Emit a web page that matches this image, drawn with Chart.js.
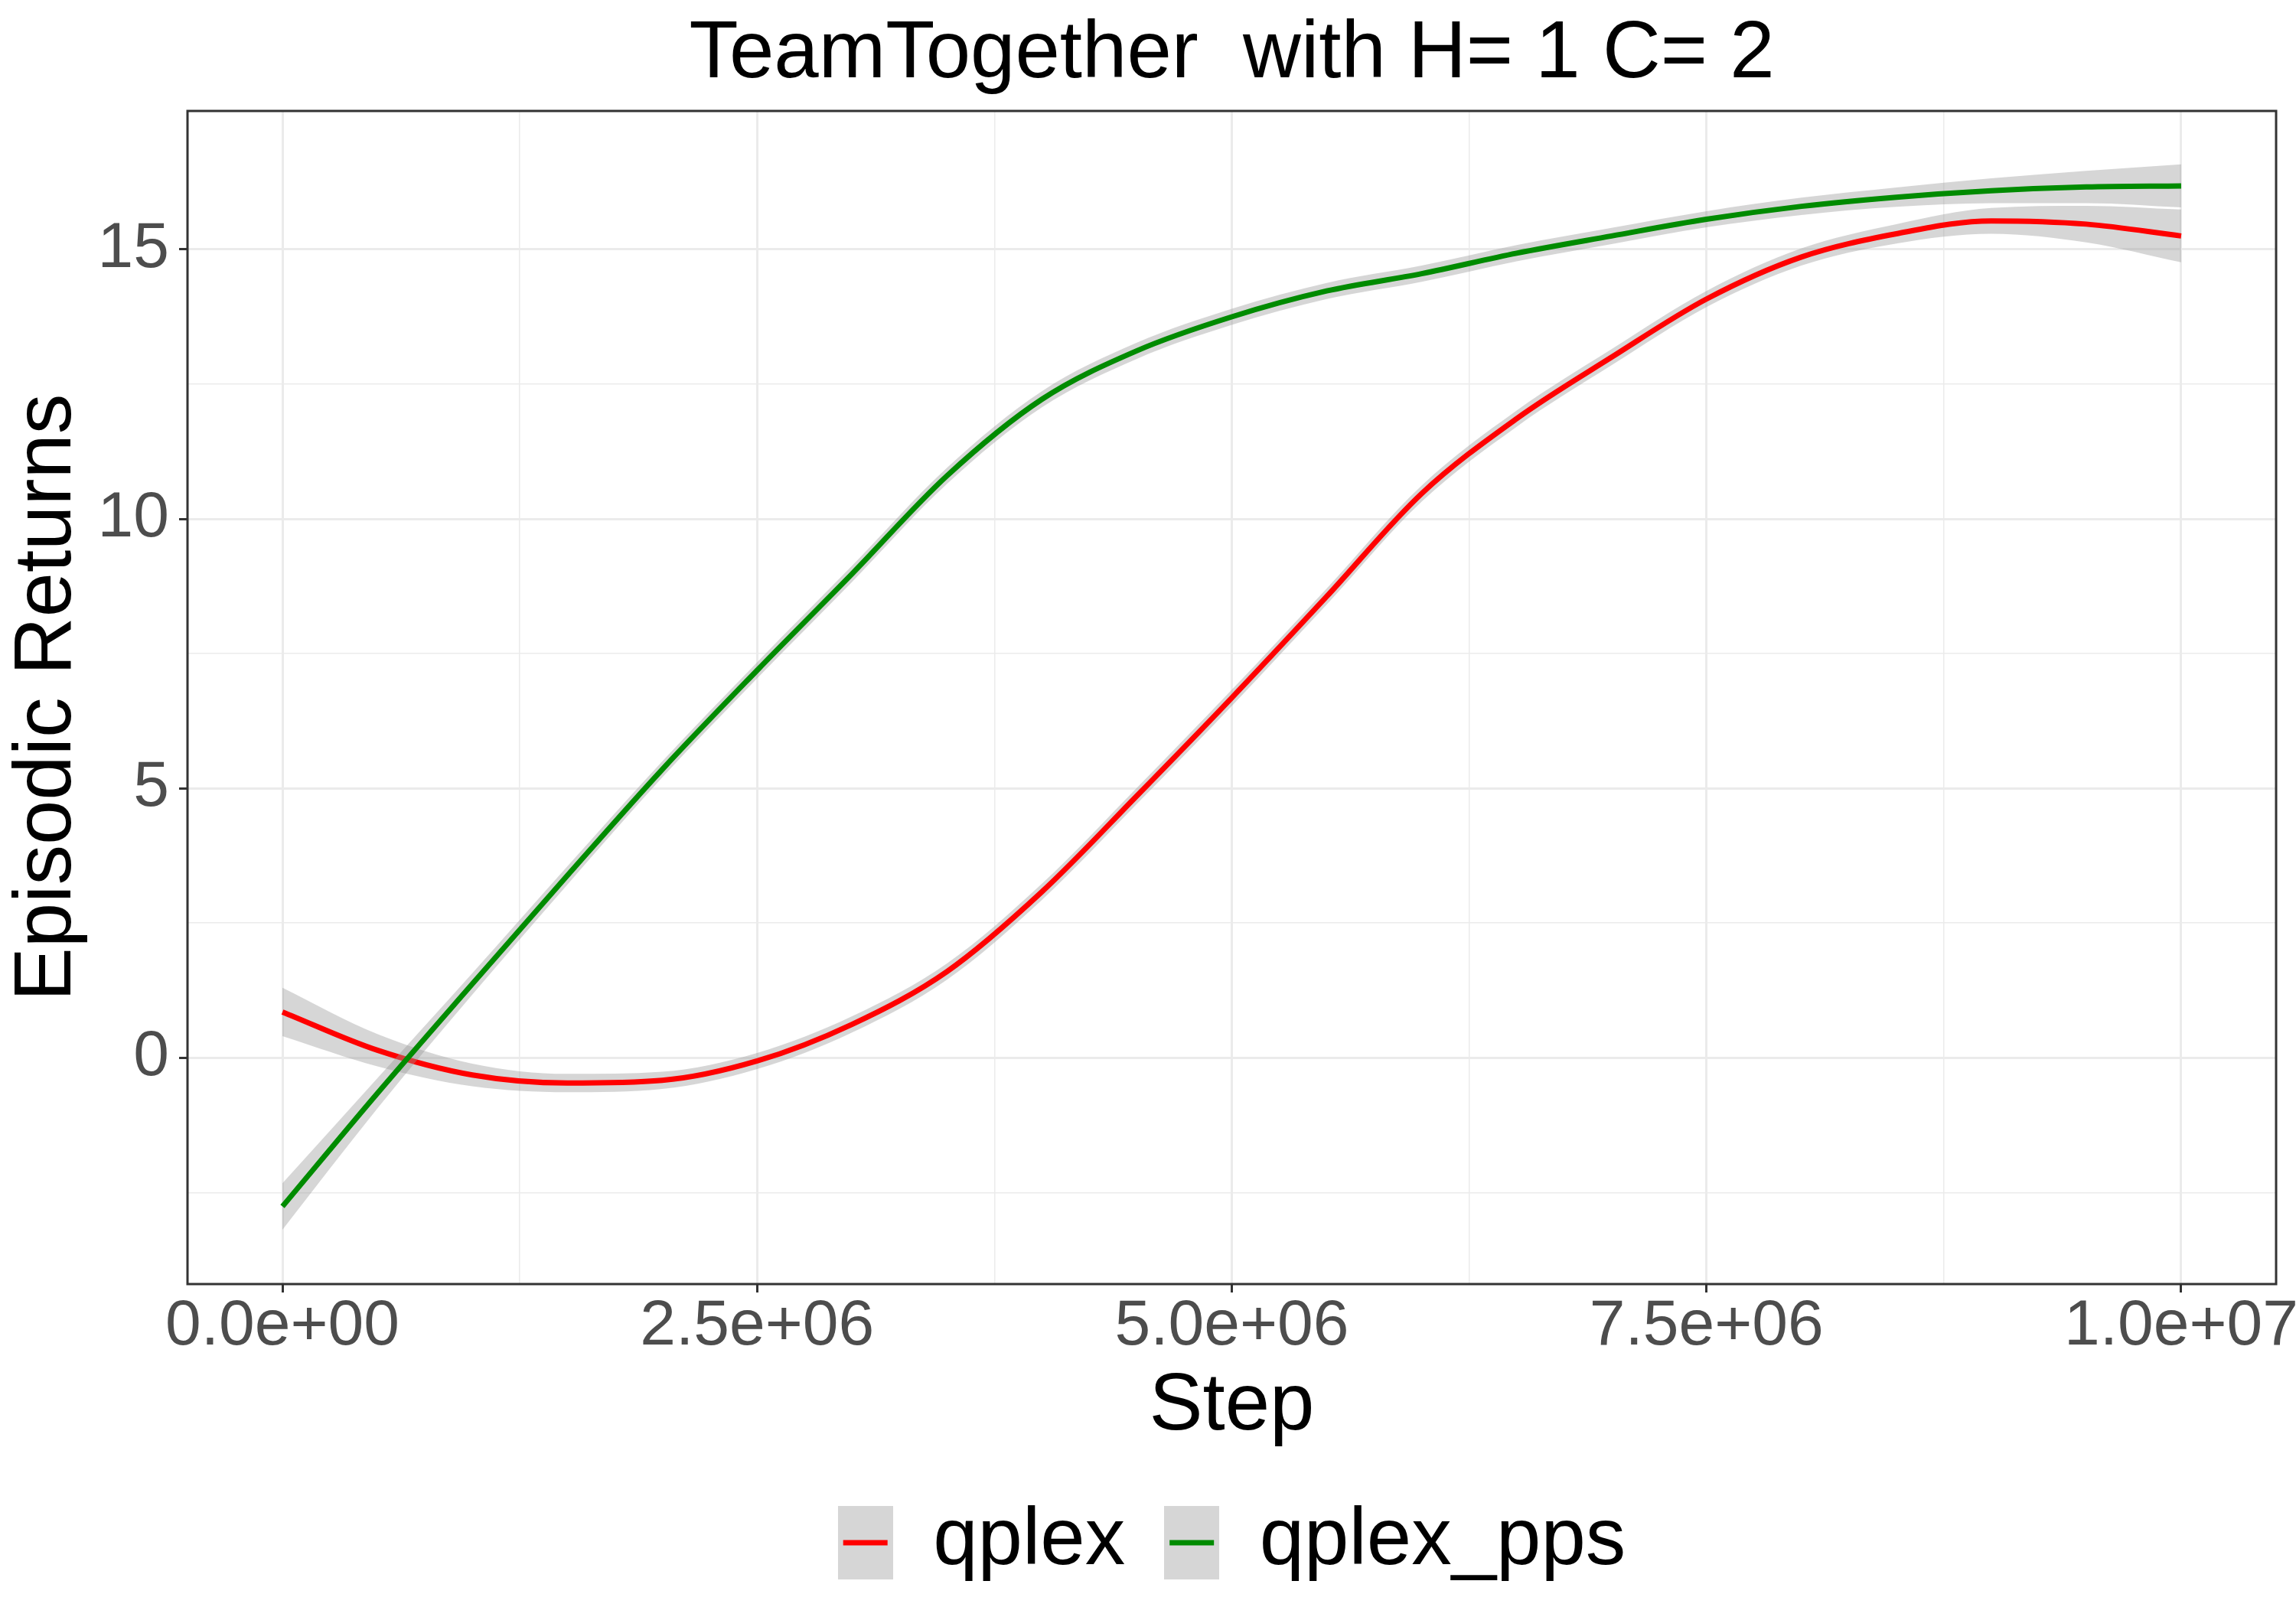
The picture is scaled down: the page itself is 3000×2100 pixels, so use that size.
<!DOCTYPE html>
<html>
<head>
<meta charset="utf-8">
<script src="https://cdn.jsdelivr.net/npm/chart.js@4.4.1/dist/chart.umd.min.js"></script>
<style>
  html, body { margin: 0; padding: 0; background: #ffffff; }
  canvas { display: block; }
</style>
</head>
<body>
<canvas id="chart" width="3000" height="2100"></canvas>
<script>
// values every 0.5e6 steps
const steps = [0, 500000, 1000000, 1500000, 2000000, 2500000, 3000000, 3500000, 4000000, 4500000,
    5000000, 5500000, 6000000, 6500000, 7000000, 7500000, 8000000, 8500000, 9000000, 9500000, 10000000];

const qplex = [0.85, 0.14, -0.32, -0.47, -0.42, -0.06, 0.62, 1.6, 3.08, 4.86,
    6.68, 8.56, 10.47, 11.86, 13.0, 14.08, 14.86, 15.29, 15.53, 15.47, 15.25];
const qplexSe = [0.45, 0.3, 0.21, 0.17, 0.16, 0.15, 0.15, 0.15, 0.15, 0.15,
    0.15, 0.15, 0.15, 0.15, 0.15, 0.15, 0.16, 0.18, 0.24, 0.34, 0.49];

const qplexPps = [-2.76, -0.66, 1.37, 3.38, 5.35, 7.19, 8.98, 10.8, 12.22, 13.12,
    13.75, 14.23, 14.55, 14.93, 15.25, 15.56, 15.8, 15.97, 16.09, 16.16, 16.18];
const qplexPpsSe = [0.43, 0.28, 0.2, 0.17, 0.15, 0.15, 0.15, 0.15, 0.15, 0.15,
    0.15, 0.15, 0.15, 0.15, 0.15, 0.15, 0.16, 0.18, 0.23, 0.3, 0.4];

const xTickValues = [0, 1250000, 2500000, 3750000, 5000000, 6250000, 7500000, 8750000, 10000000];
const xTickLabels = ['0.0e+00', '', '2.5e+06', '', '5.0e+06', '', '7.5e+06', '', '1.0e+07'];
const yTickValues = [-2.5, 0, 2.5, 5, 7.5, 10, 12.5, 15];
const yTickLabels = ['', '0', '', '5', '', '10', '', '15'];

const FONT = '"Liberation Sans", Arial, sans-serif';
const RIBBON = 'rgba(153,153,153,0.4)';

function points(vals, offs, sign) {
    return steps.map((x, i) => ({ x: x, y: vals[i] + (offs ? sign * offs[i] : 0) }));
}

function legendKey(color) {
    const c = document.createElement('canvas');
    c.width = 72;
    c.height = 96;
    const g = c.getContext('2d');
    g.fillStyle = '#D6D6D6';
    g.fillRect(0, 0, 72, 96);
    g.fillStyle = color;
    g.fillRect(7, 45, 58, 7);
    return c;
}

const keys = { 2: legendKey('#FF0000'), 5: legendKey('#008B00') };

// ggplot-style panel border
const panelBorder = {
    id: 'panelBorder',
    afterDatasetsDraw(chart) {
        const { ctx, chartArea: a } = chart;
        ctx.save();
        ctx.strokeStyle = '#333333';
        ctx.lineWidth = 3;
        ctx.strokeRect(a.left, a.top, a.right - a.left, a.bottom - a.top);
        ctx.restore();
    }
};

const ribbonStyle = {
    borderColor: 'rgba(0,0,0,0)',
    borderWidth: 0,
    backgroundColor: RIBBON,
    pointRadius: 0
};

new Chart(document.getElementById('chart'), {
    type: 'line',
    data: {
        datasets: [
            { label: 'qplex_hi', data: points(qplex, qplexSe, 1), fill: 1, order: 3, ...ribbonStyle },
            { label: 'qplex_lo', data: points(qplex, qplexSe, -1), fill: false, order: 3, ...ribbonStyle },
            { label: 'qplex', data: points(qplex), borderColor: '#FF0000', borderWidth: 7, fill: false, pointRadius: 0, order: 2 },
            { label: 'pps_hi', data: points(qplexPps, qplexPpsSe, 1), fill: 4, order: 1, ...ribbonStyle },
            { label: 'pps_lo', data: points(qplexPps, qplexPpsSe, -1), fill: false, order: 1, ...ribbonStyle },
            { label: 'qplex_pps', data: points(qplexPps), borderColor: '#008B00', borderWidth: 7, fill: false, pointRadius: 0, order: 0 }
        ]
    },
    options: {
        responsive: false,
        animation: false,
        devicePixelRatio: 1,
        layout: { padding: { left: 0, right: 26, top: 0, bottom: 22 } },
        elements: { line: { cubicInterpolationMode: 'monotone', borderCapStyle: 'butt' } },
        scales: {
            x: {
                type: 'linear',
                min: -500000,
                max: 10500000,
                afterBuildTicks: s => { s.ticks = xTickValues.map(v => ({ value: v })); },
                afterFit: s => { s.height = 234; },
                border: { display: false },
                grid: {
                    color: '#EBEBEB',
                    lineWidth: c => (xTickLabels[c.index] ? 3 : 1.5),
                    tickLength: 11,
                    tickWidth: 3,
                    tickColor: c => (xTickLabels[c.index] ? '#333333' : 'rgba(0,0,0,0)')
                },
                ticks: {
                    autoSkip: false,
                    maxRotation: 0,
                    padding: -6,
                    color: '#4D4D4D',
                    font: { family: FONT, size: 84 },
                    callback: (v, i) => xTickLabels[i]
                },
                title: {
                    display: true,
                    text: 'Step',
                    color: '#000000',
                    font: { family: FONT, size: 105 },
                    padding: { top: 0, bottom: 10 }
                }
            },
            y: {
                min: -4.2,
                max: 17.57,
                afterBuildTicks: s => { s.ticks = yTickValues.map(v => ({ value: v })); },
                afterFit: s => { s.width = 245; },
                border: { display: false },
                grid: {
                    color: '#EBEBEB',
                    lineWidth: c => (yTickLabels[c.index] ? 3 : 1.5),
                    tickLength: 11,
                    tickWidth: 3,
                    tickColor: c => (yTickLabels[c.index] ? '#333333' : 'rgba(0,0,0,0)')
                },
                ticks: {
                    autoSkip: false,
                    padding: 13,
                    color: '#4D4D4D',
                    font: { family: FONT, size: 84 },
                    callback: (v, i) => yTickLabels[i]
                },
                title: {
                    display: true,
                    text: 'Episodic Returns',
                    color: '#000000',
                    font: { family: FONT, size: 105 },
                    padding: { top: 0, bottom: 0 }
                }
            }
        },
        plugins: {
            title: {
                display: true,
                text: 'TeamTogether  with H= 1 C= 2',
                color: '#000000',
                fullSize: false,
                font: { family: FONT, size: 105, weight: 'normal' },
                padding: { top: 9, bottom: 10 }
            },
            legend: {
                display: true,
                position: 'bottom',
                fullSize: false,
                labels: {
                    usePointStyle: true,
                    pointStyleWidth: 72,
                    padding: 51,
                    color: '#000000',
                    font: { family: FONT, size: 105 },
                    generateLabels: chart => Chart.defaults.plugins.legend.labels.generateLabels(chart)
                        .filter(item => keys[item.datasetIndex])
                        .sort((a, b) => a.datasetIndex - b.datasetIndex)
                        .map(item => Object.assign(item, { pointStyle: keys[item.datasetIndex] }))
                }
            },
            tooltip: { enabled: false }
        }
    },
    plugins: [panelBorder]
});
</script>
</body>
</html>
